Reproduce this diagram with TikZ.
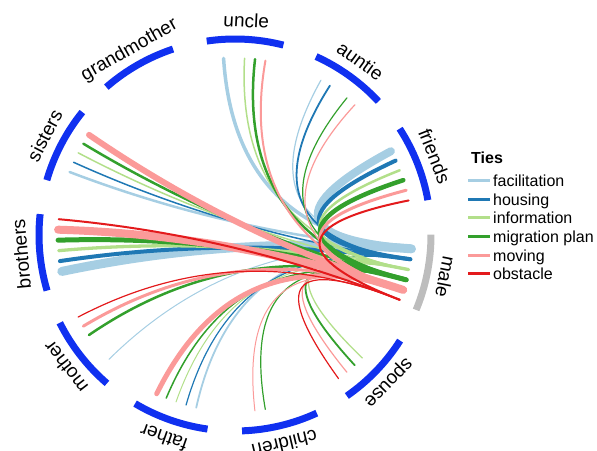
\documentclass[tikz,border=0pt]{standalone}
\usepackage{fontspec}
\setmainfont{Liberation Sans}
\usetikzlibrary{calc}
\definecolor{cfac}{HTML}{A6CEE3}
\definecolor{chou}{HTML}{1F78B4}
\definecolor{cinf}{HTML}{B2DF8A}
\definecolor{cmig}{HTML}{33A02C}
\definecolor{cmov}{HTML}{FB9A99}
\definecolor{cobs}{HTML}{E31A1C}
\definecolor{secblue}{HTML}{1030F0}
\definecolor{secgray}{HTML}{BDBDBD}
\newcommand\tie[4]{\draw[chord, draw=#3, line width=#4pt] (#1-#2) .. controls ($(#1-#2)!0.6667!(O)$) and ($(male-#2)!0.6667!(O)$) .. (male-#2);}
\begin{document}
\begin{tikzpicture}[x=1pt,y=1pt,
  lab/.style={font=\fontsize{19}{19}\selectfont, inner sep=0pt, anchor=base},
  sector/.style={line width=7pt},
  chord/.style={line cap=round},
  leg/.style={font=\fontsize{16}{16}\selectfont, inner sep=0pt, anchor=base west},
  legline/.style={line width=3pt}]
\useasboundingbox (0,0) rectangle (597,450);
\coordinate (O) at (235,215);
\foreach \nm/\c/\col in {uncle/87/secblue, grandmother/119.73/secblue, sisters/152.45/secblue,
  brothers/185.18/secblue, mother/217.91/secblue, father/250.64/secblue, children/283.36/secblue,
  spouse/316.09/secblue, male/348.82/secgray, friends/21.55/secblue, auntie/54.27/secblue}{
  \draw[sector, draw=\col] ($(O)+({\c-11.3}:196)$) arc[start angle={\c-11.3}, end angle={\c+11.3}, radius=196];
  \node[lab, rotate={\c-90}] (\nm) at ($(O)+(\c:208)$) {\nm};
  \foreach \k in {0,...,5}{
    \coordinate (\nm-\k) at ($(O)+({\c-10.3+3.4*\k}:177)$);
  }
}
% facilitation
\tie{uncle}{5}{cfac}{3.5}
\tie{sisters}{5}{cfac}{2.5}
\tie{brothers}{5}{cfac}{9}
\tie{mother}{5}{cfac}{1}
\tie{father}{5}{cfac}{1.8}
\tie{friends}{5}{cfac}{8}
\tie{auntie}{5}{cfac}{1.2}
% housing
\tie{sisters}{4}{chou}{1.5}
\tie{brothers}{4}{chou}{4}
\tie{father}{4}{chou}{1.2}
\tie{friends}{4}{chou}{4}
\tie{auntie}{4}{chou}{1.8}
% information
\tie{uncle}{3}{cinf}{1.5}
\tie{sisters}{3}{cinf}{1.5}
\tie{brothers}{3}{cinf}{3.3}
\tie{father}{3}{cinf}{1}
\tie{spouse}{3}{cinf}{1.3}
\tie{friends}{3}{cinf}{2.5}
% migration plan
\tie{uncle}{2}{cmig}{2.5}
\tie{sisters}{2}{cmig}{2.5}
\tie{brothers}{2}{cmig}{5}
\tie{mother}{2}{cmig}{2.5}
\tie{father}{2}{cmig}{1.5}
\tie{children}{2}{cmig}{1.2}
\tie{spouse}{2}{cmig}{1.8}
\tie{friends}{2}{cmig}{4.5}
\tie{auntie}{2}{cmig}{1.2}
% moving
\tie{uncle}{1}{cmov}{2}
\tie{sisters}{1}{cmov}{6}
\tie{brothers}{1}{cmov}{8}
\tie{mother}{1}{cmov}{3}
\tie{father}{1}{cmov}{5}
\tie{children}{1}{cmov}{1}
\tie{spouse}{1}{cmov}{1.2}
\tie{friends}{1}{cmov}{3}
\tie{auntie}{1}{cmov}{1.2}
% obstacle
\tie{brothers}{0}{cobs}{2}
\tie{mother}{0}{cobs}{1.2}
\tie{spouse}{0}{cobs}{1.2}
\tie{friends}{0}{cobs}{2}
% legend
\node[leg, font=\bfseries\fontsize{16}{16}\selectfont] (ties) at (471,286) {Ties};
\foreach \i/\nm/\col in {0/facilitation/cfac, 1/housing/chou, 2/information/cinf,
  3/migration plan/cmig, 4/moving/cmov, 5/obstacle/cobs}{
  \node[leg] (leg-\i) at (493,{263.3-18.65*\i}) {\nm};
  \coordinate (ls-\i) at (468,{269.3-18.65*\i});
  \coordinate (le-\i) at (490,{269.3-18.65*\i});
  \draw[legline, draw=\col] (ls-\i) -- (le-\i);
}
\end{tikzpicture}
\end{document}
